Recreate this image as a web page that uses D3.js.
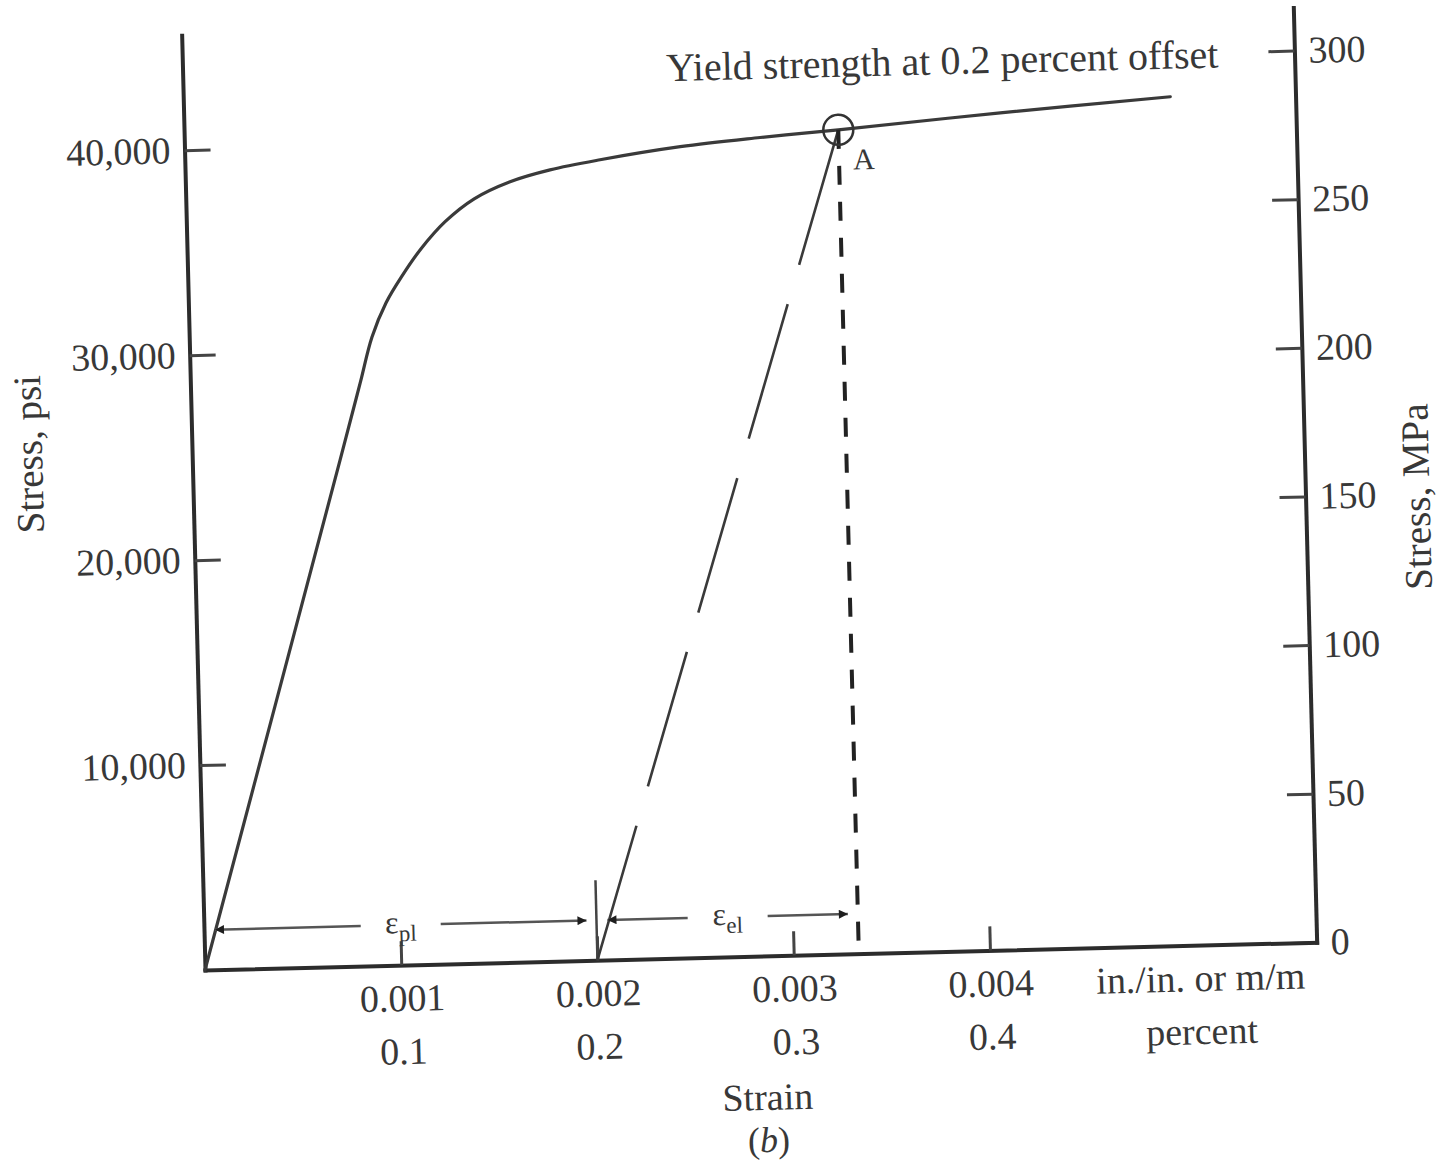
<!DOCTYPE html>
<html>
<head>
<meta charset="utf-8">
<script src="https://cdn.jsdelivr.net/npm/d3@7"></script>
<style>
  body { margin: 0; background: #fff; }
  text { font-family: "Liberation Serif", "Times New Roman", serif; fill: #383838; }
</style>
</head>
<body>
<div id="chart"></div>
<script>
// stress-strain curve
const strain = [0, 0.000753, 0.000865, 0.000931, 0.001007, 0.001092, 0.001192, 0.001318,
                0.001469, 0.001654, 0.001859, 0.002115, 0.002525, 0.002933, 0.003332, 0.004159, 0.005027];
const stressPsi = [0, 24710, 28440, 30670, 32320, 33610, 34910, 36200,
                   37280, 38070, 38600, 39030, 39570, 39920, 40200, 40830, 41410];

// 0.2 percent offset line and the yield point A
const offsetStrain = [0.002, 0.003332];
const offsetPsi = [0, 40200];
const yieldStrain = 0.003332;
const yieldPsi = 40200;

// axes
const psiTicks = [10000, 20000, 30000, 40000];
const mpaTicks = [0, 50, 100, 150, 200, 250, 300];
const strainTicks = [0.001, 0.002, 0.003, 0.004];
const percentLabels = ["0.1", "0.2", "0.3", "0.4"];
const unitLabels = ["in./in. or m/m", "percent"];
const unitStrain = 0.00507;
const strainMax = 0.005665;
const psiMax = 45610;
const MPA_PER_PSI = 0.00689476;

// strain components marked with arrows
const spans = [
  {name: "pl", from: 0, to: 0.002},
  {name: "el", from: 0.002, to: 0.003332}
];

const W = 1441, H = 1163;
const plotW = 1112, plotH = 935;
const ink = "#2c2c2c";

const svg = d3.select("#chart").append("svg")
    .attr("width", W)
    .attr("height", H)
    .style("background", "#fff");

// the scan is tilted a little, so the whole figure is turned with it
const g = svg.append("g")
    .attr("transform", "translate(205,970) rotate(-1.43)");

const x = d3.scaleLinear().domain([0, strainMax]).range([0, plotW]);
const y = d3.scaleLinear().domain([0, psiMax]).range([0, -plotH]);
const yMpa = d3.scaleLinear().domain([0, psiMax * MPA_PER_PSI]).range([0, -plotH]);

const defs = svg.append("defs");
defs.append("marker")
    .attr("id", "head")
    .attr("viewBox", "0 0 10 10")
    .attr("refX", 10).attr("refY", 5)
    .attr("markerWidth", 13).attr("markerHeight", 9)
    .attr("markerUnits", "userSpaceOnUse")
    .attr("orient", "auto-start-reverse")
    .append("path")
    .attr("d", "M0,0L10,5L0,10Z")
    .attr("fill", "#1e1e1e");

function styleAxis(sel) {
  sel.select(".domain").attr("stroke", ink).attr("stroke-width", 4).attr("stroke-linecap", "square");
  sel.selectAll(".tick line").attr("stroke", "#444").attr("stroke-width", 3);
  sel.selectAll(".tick text").style("font-size", "38px").attr("fill", "#3a3a3a");
}

// left axis, psi
g.append("g")
    .call(d3.axisLeft(y).tickValues(psiTicks).tickSize(-26).tickSizeOuter(0)
        .tickPadding(14).tickFormat(d3.format(",")))
    .call(styleAxis);

// right axis, MPa
g.append("g")
    .attr("transform", `translate(${plotW},0)`)
    .call(d3.axisRight(yMpa).tickValues(mpaTicks).tickSize(-26).tickSizeOuter(0)
        .tickPadding(14).tickFormat(d3.format("d")))
    .call(styleAxis);

// bottom axis, strain
const xAxis = g.append("g")
    .call(d3.axisBottom(x).tickValues(strainTicks).tickSize(-24).tickSizeOuter(0)
        .tickPadding(19).tickFormat(d3.format(".3f")))
    .call(styleAxis);

xAxis.selectAll(".tick")
    .append("text")
    .attr("y", 99)
    .attr("text-anchor", "middle")
    .style("font-size", "38px")
    .attr("fill", "#3a3a3a")
    .text((d, i) => percentLabels[i]);

unitLabels.forEach((t, i) => {
  g.append("text")
      .attr("x", x(unitStrain))
      .attr("y", 46 + i * 53)
      .attr("text-anchor", "middle")
      .style("font-size", "38px")
      .text(t);
});

// axis titles
g.append("text")
    .attr("transform", `translate(-150,${-520}) rotate(-90)`)
    .attr("text-anchor", "middle")
    .style("font-size", "39px")
    .text("Stress, psi");

g.append("text")
    .attr("transform", `translate(${plotW + 124},${-443}) rotate(-90)`)
    .attr("text-anchor", "middle")
    .style("font-size", "39px")
    .text("Stress, MPa");

g.append("text")
    .attr("x", x(0.00285))
    .attr("y", 154)
    .attr("text-anchor", "middle")
    .style("font-size", "38px")
    .text("Strain");

g.append("text")
    .attr("x", x(0.00285))
    .attr("y", 196)
    .attr("text-anchor", "middle")
    .style("font-size", "36px")
    .html('(<tspan font-style="italic">b</tspan>)');

// divider at 0.002
g.append("line")
    .attr("x1", x(0.002)).attr("x2", x(0.002))
    .attr("y1", 0).attr("y2", -80)
    .attr("stroke", "#444")
    .attr("stroke-width", 2.5);

// stress-strain curve
const curvePts = strain.map((s, i) => [s, stressPsi[i]]);
g.append("path")
    .datum(curvePts)
    .attr("d", d3.line().x(d => x(d[0])).y(d => y(d[1])).curve(d3.curveCatmullRom.alpha(0.5)))
    .attr("fill", "none")
    .attr("stroke", "#3a3a3a")
    .attr("stroke-width", 3.2)
    .attr("stroke-linecap", "round");

// offset line, long dashes
g.append("path")
    .datum(offsetStrain.map((s, i) => [s, offsetPsi[i]]))
    .attr("d", d3.line().x(d => x(d[0])).y(d => y(d[1])))
    .attr("fill", "none")
    .attr("stroke", "#3a3a3a")
    .attr("stroke-width", 2.6)
    .attr("stroke-dasharray", "140,41");

// vertical dashed line from A down to the axis
g.append("line")
    .attr("x1", x(yieldStrain)).attr("x2", x(yieldStrain))
    .attr("y1", y(yieldPsi)).attr("y2", 0)
    .attr("stroke", "#222")
    .attr("stroke-width", 4)
    .attr("stroke-dasharray", "19,17");

g.append("circle")
    .attr("cx", x(yieldStrain))
    .attr("cy", y(yieldPsi))
    .attr("r", 15)
    .attr("fill", "none")
    .attr("stroke", "#333")
    .attr("stroke-width", 2.5);

g.append("text")
    .attr("x", x(yieldStrain) + 14)
    .attr("y", y(yieldPsi) + 40)
    .style("font-size", "30px")
    .text("A");

g.append("text")
    .attr("x", x(0.00387))
    .attr("y", -877)
    .attr("text-anchor", "middle")
    .style("font-size", "40px")
    .text("Yield strength at 0.2 percent offset");

// arrows for the strain parts
const arrowY = -40;
const gap = 40;
spans.forEach(sp => {
  const a = x(sp.from) + 11;
  const b = x(sp.to) - 10;
  const mid = (a + b) / 2;
  g.append("line")
      .attr("x1", mid - gap).attr("x2", a)
      .attr("y1", arrowY).attr("y2", arrowY)
      .attr("stroke", "#555").attr("stroke-width", 2.5)
      .attr("marker-end", "url(#head)");
  g.append("line")
      .attr("x1", mid + gap).attr("x2", b)
      .attr("y1", arrowY).attr("y2", arrowY)
      .attr("stroke", "#555").attr("stroke-width", 2.5)
      .attr("marker-end", "url(#head)");
  const t = g.append("text")
      .attr("x", mid)
      .attr("y", arrowY + 8)
      .attr("text-anchor", "middle")
      .style("font-size", "32px");
  t.append("tspan").text("ε");
  t.append("tspan").attr("dy", 8).style("font-size", "23px").text(sp.name);
});
</script>
</body>
</html>
